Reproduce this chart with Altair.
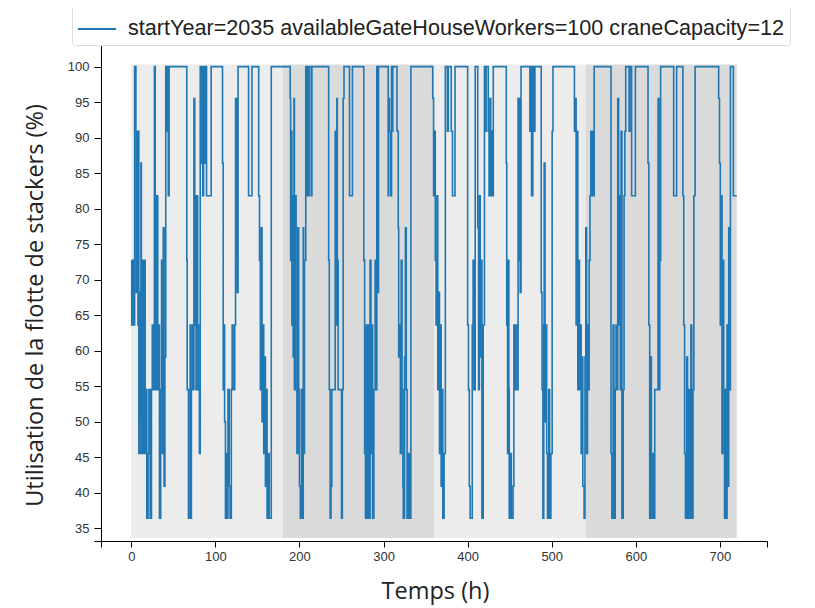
import altair as alt
import pandas as pd

# Time (h) at which the utilisation changes, and the new value (%)
T = [0, 0.5, 1.5, 2.5, 4.0, 5.5, 6.0, 6.5, 7.0, 7.5, 8.0, 8.5, 9.0, 9.5, 10.0, 10.5, 11.5, 12.0, 12.5,
     13.5, 14.0, 14.5, 15.5, 16.5, 17.5, 18.5, 20.0, 21.0, 22.5, 24.0, 25.0, 26.5, 27.5, 28.5, 29.0, 30.0,
     30.5, 31.5, 32.5, 33.5, 35.0, 36.0, 37.0, 38.0, 39.0, 40.0, 41.0, 42.0, 43.0, 44.0, 45.0, 66.0, 66.5,
     68.0, 70.0, 70.5, 71.5, 72.5, 73.5, 74.5, 75.5, 76.0, 77.0, 78.0, 79.0, 80.0, 81.0, 82.0, 83.0, 84.0,
     85.0, 86.0, 87.0, 88.0, 89.5, 95.0, 108.5, 109.3, 110.0, 111.0, 112.0, 113.0, 114.0, 115.0, 116.5,
     117.5, 119.0, 120.0, 121.0, 123.0, 124.0, 124.5, 125.5, 126.0, 127.0, 139.5, 143.5,
     151.5, 152.5, 153.5, 154.5, 155.5, 156.5, 157.5, 158.5, 159.5, 160.5, 161.5, 163.0, 164.0, 166.5,
     189.0, 189.5, 190.0, 191.0, 192.0, 192.5, 193.5, 194.0, 195.0, 196.0, 197.0, 198.0, 199.0, 200.0,
     201.0, 202.5, 203.5, 204.5, 205.0, 206.0, 207.5, 208.5, 209.0, 210.5, 211.5, 214.0, 214.8, 234.7,
     235.5, 236.5, 237.5, 238.5, 242.5, 243.5, 244.5, 245.0, 246.0, 250.0, 251.0, 252.0, 253.0, 259.5,
     263.0, 276.5, 277.5, 278.5, 279.5, 280.5, 281.5,
     282.0, 283.0, 284.0, 285.0, 286.0, 287.0, 288.5, 290.0, 291.0, 292.0, 293.0, 294.0, 305.5, 306.0,
     307.0, 308.5, 309.5, 310.0, 311.0, 316.0, 317.5, 318.0, 319.0, 320.0, 321.0, 322.0, 323.0, 323.5,
     325.0, 326.0, 327.0, 328.0, 329.5, 331.0, 332.5, 358.5, 359.5, 360.5, 361.5, 362.5, 363.5, 364.5,
     365.5, 366.5, 367.5, 368.5, 369.5, 370.5, 372.0, 373.5, 376.0, 377.0, 380.5, 382.0, 385.0, 400.0,
     401.0, 402.0, 403.0, 405.5, 406.5, 407.5, 409.0, 412.0, 413.0, 414.0, 415.0, 416.0, 417.0, 418.5,
     420.0,
     421.0, 422.0, 424.5, 425.5, 426.5, 427.5, 428.5, 429.5, 430.5, 446.0, 446.5, 447.5, 448.0, 449.0,
     449.5, 451.0, 452.0, 454.0, 455.0, 456.0, 457.0, 459.0, 460.0, 460.5, 461.5, 462.5, 463.5, 474.0,
     475.0, 476.0, 477.5, 479.0, 480.0, 487.5, 488.5, 489.5, 490.5, 491.0, 492.0, 493.0, 494.0, 495.0,
     496.5, 497.5, 499.0, 500.5, 501.5, 527.0, 528.0, 529.0, 530.0, 531.0, 532.0, 533.0, 534.0, 535.0,
     536.0, 537.0, 538.5, 539.5, 540.5, 541.5, 542.5, 543.5, 544.5, 545.5, 546.5, 547.5, 548.5, 549.5,
     550.5,
     570.5, 571.5, 573.0, 574.0, 575.5, 576.5, 577.5, 578.5, 579.5, 580.5, 581.5, 582.5, 583.5, 585.0,
     586.0, 587.0, 588.0, 592.0, 593.0, 595.0, 599.5, 614.5, 615.5, 616.5, 617.5, 618.5, 619.5, 620.5,
     621.5, 622.5, 626.5, 627.5, 628.5, 629.5, 645.0, 648.5, 656.0, 657.0, 658.0, 659.0, 660.5, 661.5,
     663.0, 664.0, 665.5, 666.5, 668.0, 669.0, 670.5, 698.5, 699.5, 700.5, 701.5, 702.5, 703.5, 704.5,
     705.5, 706.5, 707.5, 708.5, 709.5, 710.5, 711.5, 712.5, 716.0, 720.0]

V = [72.7, 63.6, 72.7, 63.6, 100, 90.9, 68.2, 90.9, 72.7, 86.4, 63.6, 90.9, 45.5, 68.2, 45.5, 54.5, 86.4, 50, 45.5,
     72.7, 54.5, 45.5, 72.7, 45.5, 54.5, 36.4, 45.5, 54.5, 36.4, 54.5, 63.6, 54.5, 100, 81.8, 54.5, 63.6,
     81.8, 54.5, 63.6, 36.4, 54.5, 72.7, 45.5, 77.3, 40.9, 59.1, 100, 90.9, 100, 81.8, 100, 72.7, 54.5,
     36.4, 63.6, 36.4, 54.5, 63.6, 54.5, 95.5, 63.6, 81.8, 54.5, 81.8, 63.6, 54.5, 45.5, 100, 86.4, 100,
     81.8, 100, 86.4, 100, 81.8, 100, 86.4, 54.5, 63.6, 50, 36.4, 45.5, 36.4, 54.5, 40.9,
     36.4, 54.5, 63.6, 54.5, 63.6, 95.5, 72.7, 95.5, 68.2, 100, 81.8, 100,
     81.8, 72.7, 54.5, 77.3, 50, 63.6, 45.5, 59.1, 40.9, 54.5, 36.4, 45.5, 36.4, 100,
     95.5, 72.7, 90.9, 63.6, 81.8, 59.1, 95.5, 54.5, 81.8, 63.6, 45.5, 77.3, 54.5, 40.9,
     36.4, 54.5, 36.4, 77.3, 45.5, 72.7, 100, 81.8, 100, 81.8, 100, 81.8, 100, 72.7,
     54.5, 36.4, 40.9, 54.5, 90.9, 63.6, 95.5, 72.7, 54.5, 36.4, 54.5, 95.5, 100, 81.8,
     100, 72.7, 45.5, 36.4, 63.6, 36.4, 54.5,
     63.6, 36.4, 72.7, 45.5, 63.6, 36.4, 54.5, 72.7, 54.5, 100, 68.2, 100, 81.8, 95.5,
     90.9, 81.8, 100, 90.9, 100, 90.9, 77.3, 59.1, 63.6, 45.5, 72.7, 54.5, 40.9, 36.4,
     59.1, 77.3, 54.5, 36.4, 45.5, 36.4, 100, 95.5, 81.8, 90.9, 72.7, 63.6, 81.8, 54.5,
     68.2, 45.5, 63.6, 40.9, 54.5, 36.4, 45.5, 100, 90.9, 100, 90.9, 81.8, 100, 63.6,
     54.5, 40.9, 36.4, 63.6, 72.7, 54.5, 100, 77.3, 54.5, 81.8, 59.1, 72.7, 36.4, 63.6,
     100,
     90.9, 100, 90.9, 81.8, 95.5, 81.8, 90.9, 81.8, 100, 86.4, 63.6, 45.5, 72.7, 54.5,
     36.4, 45.5, 36.4, 40.9, 63.6, 54.5, 63.6, 54.5, 95.5, 72.7, 95.5, 68.2, 100, 90.9,
     100, 81.8, 100, 90.9, 100, 68.2, 54.5, 36.4, 63.6, 86.4, 50, 63.6, 45.5, 36.4,
     54.5, 36.4, 45.5, 90.9, 100, 90.9, 95.5, 63.6, 90.9, 54.5, 72.7, 54.5, 63.6, 45.5,
     59.1, 40.9, 36.4, 59.1, 77.3, 45.5, 63.6, 54.5, 72.7, 81.8, 90.9, 81.8, 90.9, 81.8,
     100,
     45.5, 36.4, 63.6, 36.4, 54.5, 63.6, 54.5, 95.5, 63.6, 81.8, 54.5, 90.9, 36.4, 54.5,
     81.8, 90.9, 100, 90.9, 100, 81.8, 100, 86.4, 63.6, 36.4, 59.1, 40.9, 36.4, 45.5,
     36.4, 54.5, 95.5, 54.5, 72.7, 100, 81.8, 100, 81.8, 63.6, 45.5, 36.4, 59.1, 36.4,
     54.5, 36.4, 63.6, 36.4, 54.5, 81.8, 100, 95.5, 86.4, 63.6, 81.8, 45.5, 72.7, 54.5,
     36.4, 54.5, 36.4, 63.6, 40.9, 77.3, 54.5, 100, 81.8, 81.8]

# Background bands
BAND_START = [0, 180, 360, 540]
BAND_END = [180, 360, 540, 720]
BAND_SHADE = ["a", "b", "a", "b"]
BAND_YLOW = 33.6
BAND_YHIGH = 100.3

SERIES = "startYear=2035 availableGateHouseWorkers=100 craneCapacity=12"

line_df = pd.DataFrame({"t": T, "v": V, "serie": SERIES})
band_df = pd.DataFrame({"t": BAND_START, "t2": BAND_END, "shade": BAND_SHADE,
                        "v": BAND_YLOW, "v2": BAND_YHIGH})

XDOM = [-36, 756]
YDOM = [33.18, 103.18]
X_TICKS = [XDOM[0], 0, 100, 200, 300, 400, 500, 600, 700, XDOM[1]]
Y_TICKS = [YDOM[0], 35, 40, 45, 50, 55, 60, 65, 70, 75, 80, 85, 90, 95, 100, YDOM[1]]

xscale = alt.Scale(domain=XDOM, nice=False, zero=False)
yscale = alt.Scale(domain=YDOM, nice=False, zero=False)

axis_common = dict(domainColor="#000", tickColor="#000", labelFont="Liberation Sans",
                   labelFontSize=13, labelColor="#333", grid=False, labelOverlap=False,
                   titleFont="Open Sans", titleFontSize=23.5, titleFontWeight="normal",
                   titleColor="#222")

xaxis = alt.Axis(values=X_TICKS, tickSize=6, labelPadding=3,
                 labelExpr="(datum.value < 0 || datum.value > 720) ? '' : datum.label",
                 title="Temps (h)", titleX=334, titleY=50, titleBaseline="middle",
                 **axis_common)
yaxis = alt.Axis(values=Y_TICKS, tickSize=7, labelPadding=5,
                 labelExpr="(datum.value < 34 || datum.value > 101) ? '' : datum.label",
                 title="Utilisation de la flotte de stackers (%)",
                 titleX=-66, titleY=261, titleBaseline="middle", titleAngle=-90,
                 **axis_common)

bands = alt.Chart(band_df).mark_rect().encode(
    x=alt.X("t:Q", scale=xscale, axis=xaxis),
    x2="t2:Q",
    y=alt.Y("v:Q", scale=yscale, axis=yaxis),
    y2="v2:Q",
    fill=alt.Fill("shade:N", scale=alt.Scale(domain=["a", "b"], range=["#ececec", "#dadada"]),
                  legend=None),
)

line = alt.Chart(line_df).mark_line(interpolate="step-after", strokeWidth=1.6).encode(
    x=alt.X("t:Q", scale=xscale, axis=xaxis),
    y=alt.Y("v:Q", scale=yscale, axis=yaxis),
    color=alt.Color("serie:N", scale=alt.Scale(domain=[SERIES], range=["#1f77b4"]),
                    legend=alt.Legend(title=None, orient="none", legendX=-29, legendY=-40,
                                      symbolType="stroke", symbolSize=1444, symbolStrokeWidth=2,
                                      labelFont="Liberation Sans", labelFontSize=21.6,
                                      labelColor="#222", labelLimit=0, labelOffset=11,
                                      padding=5, strokeColor="#dddddd", fillColor="white",
                                      cornerRadius=3)),
)

chart = alt.layer(bands, line).properties(
    width=666, height=497,
    padding={"left": 93, "top": 36, "right": 40, "bottom": 66},
    autosize=alt.AutoSizeParams(type="none"),
).configure_view(stroke=None)

chart.save("out.html", embed_options={"renderer": "svg", "actions": False})
